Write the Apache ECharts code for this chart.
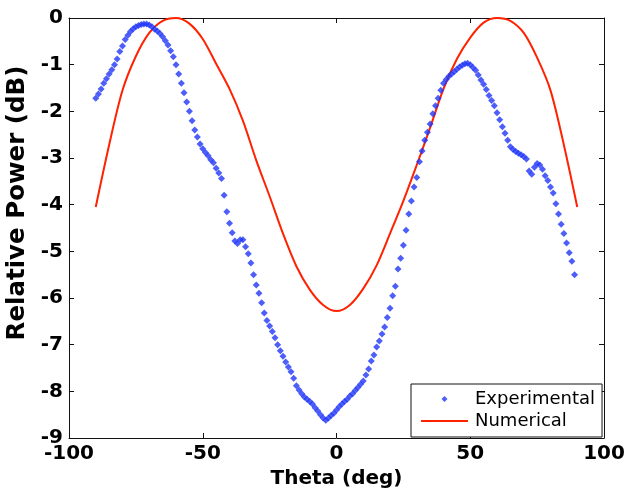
<!DOCTYPE html>
<html>
<head>
<meta charset="utf-8">
<script src="https://cdn.jsdelivr.net/npm/echarts@6/dist/echarts.min.js"></script>
<style>html,body{margin:0;padding:0;background:#fff}#c{width:624px;height:494px}</style>
</head>
<body>
<div id="c"></div>
<script>
const xTicks = [-100, -50, 0, 50, 100];
const yTicks = [0, -1, -2, -3, -4, -5, -6, -7, -8, -9];

const expTheta = [-90,-89,-88,-87,-86,-85,-84,-83,-82,-81,-80,-79,-78,-77,-76,-75,-74,-73,-72,-71,
-70,-69,-68,-67,-66,-65,-64,-63,-62,-61,-60,-59,-58,-57,-56,-55,-54,-53,-52,-51,
-50,-49,-48,-47,-46,-45,-44,-43,-42,-41,-40,-39,-38,-37,-36,-35,-34,-33,-32,-31,
-30,-29,-28,-27,-26,-25,-24,-23,-22,-21,-20,-19,-18,-17,-16,-15,-14,-13,-12,-11,
-10,-9,-8,-7,-6,-5,-4,-3,-2,-1,0,1,2,3,4,5,6,7,8,9,
10,11,12,13,14,15,16,17,18,19,20,21,22,23,24,25,26,27,28,29,
30,31,32,33,34,35,36,37,38,39,40,41,42,43,44,45,46,47,48,49,
50,51,52,53,54,55,56,57,58,59,60,61,62,63,64,65,66,67,68,69,
70,71,72,73,74,75,76,77,78,79,80,81,82,83,84,85,86,87,88,89];
const expPower = [-1.72,-1.63,-1.52,-1.40,-1.30,-1.20,-1.11,-1.00,-0.88,-0.72,-0.60,-0.46,-0.37,-0.29,-0.23,-0.19,-0.16,-0.14,-0.13,-0.13,
-0.15,-0.19,-0.24,-0.28,-0.33,-0.40,-0.49,-0.58,-0.70,-0.83,-1.00,-1.20,-1.40,-1.60,-1.80,-2.00,-2.20,-2.40,-2.55,-2.70,
-2.80,-2.88,-2.95,-3.04,-3.10,-3.22,-3.32,-3.44,-3.80,-4.15,-4.40,-4.60,-4.78,-4.83,-4.75,-4.75,-4.90,-5.05,-5.25,-5.50,
-5.72,-5.90,-6.10,-6.32,-6.48,-6.60,-6.72,-6.85,-7.00,-7.13,-7.25,-7.37,-7.48,-7.58,-7.72,-7.88,-7.97,-8.05,-8.12,-8.17,
-8.22,-8.27,-8.35,-8.42,-8.50,-8.57,-8.62,-8.57,-8.52,-8.47,-8.40,-8.33,-8.27,-8.22,-8.17,-8.10,-8.05,-7.98,-7.92,-7.85,
-7.78,-7.65,-7.52,-7.35,-7.22,-7.05,-6.92,-6.77,-6.62,-6.42,-6.22,-5.95,-5.75,-5.38,-5.15,-4.87,-4.55,-4.20,-3.92,-3.62,
-3.42,-3.08,-2.85,-2.62,-2.45,-2.27,-2.05,-1.88,-1.72,-1.55,-1.40,-1.32,-1.25,-1.20,-1.15,-1.10,-1.05,-1.01,-0.98,-0.97,
-1.00,-1.06,-1.12,-1.22,-1.33,-1.42,-1.53,-1.66,-1.77,-1.88,-2.03,-2.18,-2.33,-2.47,-2.62,-2.76,-2.82,-2.86,-2.90,-2.93,
-2.97,-3.02,-3.28,-3.35,-3.20,-3.12,-3.15,-3.24,-3.38,-3.48,-3.62,-3.75,-3.98,-4.20,-4.42,-4.62,-4.82,-5.03,-5.21,-5.50];

const numTheta = [-90,-85,-80,-75,-70,-65,-60,-55,-50,-45,-40,-35,-30,-25,-20,-15,-10,-5,0,
5,10,15,20,25,30,35,40,45,50,55,60,65,70,75,80,85,90];
const numPower = [-4.05,-2.72,-1.55,-0.82,-0.32,-0.06,0,-0.12,-0.45,-0.98,-1.52,-2.2,-3.05,-3.82,-4.62,-5.32,-5.82,-6.15,-6.28,
-6.15,-5.8,-5.3,-4.62,-3.92,-3.15,-2.35,-1.52,-0.88,-0.42,-0.1,0,-0.06,-0.32,-0.85,-1.55,-2.72,-4.05];

const FONT = 'DejaVu Sans';
const chart = echarts.init(document.getElementById('c'), null, {renderer: 'canvas'});
const axisLine = {show: true, onZero: false, lineStyle: {color: '#111', width: 1}};
const tickIn = {show: true, inside: true, length: 5, lineStyle: {color: '#111', width: 1}};
chart.setOption({
  animation: false,
  backgroundColor: '#fff',
  grid: {left: 69, right: 20, top: 18, bottom: 56, containLabel: false, outerBoundsMode: 'none'},
  xAxis: [{
    type: 'value', min: xTicks[0], max: xTicks[xTicks.length - 1], interval: 50, position: 'bottom',
    axisLine: axisLine, axisTick: tickIn, splitLine: {show: false},
    axisLabel: {color: '#000', fontFamily: FONT, fontWeight: 'bold', fontSize: 20, margin: 6},
    name: 'Theta (deg)', nameLocation: 'middle', nameGap: 31,
    nameTextStyle: {color: '#000', fontFamily: FONT, fontWeight: 'bold', fontSize: 20}
  }, {
    type: 'value', min: xTicks[0], max: xTicks[xTicks.length - 1], interval: 50, position: 'top',
    axisLine: axisLine, axisTick: tickIn, axisLabel: {show: false}, splitLine: {show: false}
  }],
  yAxis: [{
    type: 'value', min: yTicks[yTicks.length - 1], max: yTicks[0], interval: 1, position: 'left',
    axisLine: axisLine, axisTick: tickIn, splitLine: {show: false},
    axisLabel: {color: '#000', fontFamily: FONT, fontWeight: 'bold', fontSize: 20, margin: 6},
    name: 'Relative Power (dB)', nameLocation: 'middle', nameGap: 35,
    nameTextStyle: {color: '#000', fontFamily: FONT, fontWeight: 'bold', fontSize: 24.5, padding: [0, 0, 0, 50]}
  }, {
    type: 'value', min: yTicks[yTicks.length - 1], max: yTicks[0], interval: 1, position: 'right',
    axisLine: axisLine, axisTick: tickIn, axisLabel: {show: false}, splitLine: {show: false}
  }],
  legend: {
    orient: 'vertical', left: 411, top: 384,
    padding: [6, 7, 7, 10],
    itemWidth: 47, itemHeight: 6, itemGap: 4,
    symbolKeepAspect: true,
    borderColor: '#111', borderWidth: 1, backgroundColor: '#fff',
    textStyle: {fontFamily: FONT, fontSize: 18, color: '#000', padding: [0, 0, 0, 2]},
    data: [
      {name: 'Experimental', icon: 'path://M0,-1L1,0L0,1L-1,0Z'},
      {name: 'Numerical', icon: 'path://M0,0L47,0L47,2L0,2Z'}
    ]
  },
  series: [{
    name: 'Numerical', type: 'line', xAxisIndex: 0, yAxisIndex: 0,
    data: numTheta.map((t, i) => [t, numPower[i]]),
    smooth: 0.3, showSymbol: false, symbol: 'none',
    lineStyle: {color: '#ff2200', width: 2}, itemStyle: {color: '#ff2200'}, z: 2
  }, {
    name: 'Experimental', type: 'scatter', xAxisIndex: 0, yAxisIndex: 0,
    data: expTheta.map((t, i) => [t, expPower[i]]),
    symbol: 'diamond', symbolSize: 7,
    itemStyle: {color: '#2036f8'}, z: 3
  }]
});
</script>
</body>
</html>
